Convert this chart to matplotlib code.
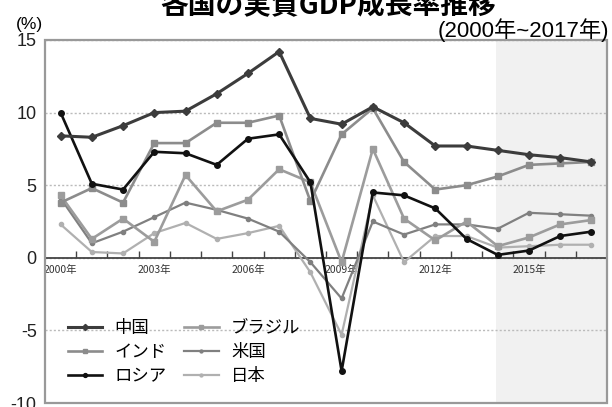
import matplotlib
matplotlib.use("Agg")
import matplotlib.pyplot as plt
from matplotlib.patches import Rectangle
import numpy as np

plt.rcParams['font.family'] = ['Noto Sans CJK JP', 'DejaVu Sans']
plt.rcParams['axes.unicode_minus'] = False
num_font = ['Liberation Sans', 'Noto Sans CJK JP']

# データ (年ごとの実質GDP成長率, %)
years = list(range(2000, 2018))
china = [8.4, 8.3, 9.1, 10.0, 10.1, 11.3, 12.7, 14.2, 9.6, 9.2, 10.4, 9.3, 7.7, 7.7, 7.4, 7.1, 6.9, 6.6]
india = [3.8, 4.8, 3.8, 7.9, 7.9, 9.3, 9.3, 9.8, 3.9, 8.5, 10.3, 6.6, 4.7, 5.0, 5.6, 6.4, 6.5, 6.6]
russia = [10.0, 5.1, 4.7, 7.3, 7.2, 6.4, 8.2, 8.5, 5.2, -7.8, 4.5, 4.3, 3.4, 1.3, 0.2, 0.5, 1.5, 1.8]
brazil = [4.3, 1.3, 2.7, 1.1, 5.7, 3.2, 4.0, 6.1, 5.2, -0.3, 7.5, 2.7, 1.2, 2.5, 0.8, 1.4, 2.3, 2.6]
usa = [4.1, 1.0, 1.8, 2.8, 3.8, 3.3, 2.7, 1.8, -0.3, -2.8, 2.5, 1.6, 2.3, 2.3, 2.0, 3.1, 3.0, 2.9]
japan = [2.3, 0.4, 0.3, 1.7, 2.4, 1.3, 1.7, 2.2, -1.0, -5.3, 4.3, -0.3, 1.5, 1.5, 0.7, 0.8, 0.9, 0.9]

label_years = [2000, 2003, 2006, 2009, 2012, 2015]
yticks = [15, 10, 5, 0, -5, -10]
forecast_start = 2013.95

fig = plt.figure(figsize=(6.12, 4.07), dpi=100)
ax = fig.add_axes([45/612, 1 - 403/407, 562/612, 363/407])

ax.axvspan(forecast_start, 2017.5, color='#f1f1f1', zorder=0, lw=0)

# 各系列
ax.plot(years, japan, color='#b0b0b0', lw=1.6, marker='o', ms=3, label='日本', zorder=3)
ax.plot(years, usa, color='#808080', lw=1.6, marker='o', ms=3, label='米国', zorder=3)
ax.plot(years, brazil, color='#9c9c9c', lw=1.9, marker='s', ms=4, label='ブラジル', zorder=3)
ax.plot(years, india, color='#8c8c8c', lw=1.9, marker='s', ms=4, label='インド', zorder=3)
ax.plot(years, russia, color='#111111', lw=1.9, marker='o', ms=4, label='ロシア', zorder=4)
ax.plot(years, china, color='#3c3c3c', lw=2.2, marker='D', ms=4.5, label='中国', zorder=4)

ax.set_xlim(1999.5, 2017.5)
ax.set_ylim(-10, 15)

# 枠
for s in ['top', 'left', 'right']:
    ax.spines[s].set_visible(False)
ax.spines['bottom'].set_position(('data', 0))
ax.spines['bottom'].set_color('#444444')
ax.spines['bottom'].set_linewidth(1.3)
ax.add_patch(Rectangle((0, 0), 1, 1, transform=ax.transAxes, fill=False,
                       ec='#999999', lw=1.6, zorder=6, clip_on=False))

ax.set_yticks(yticks)
ax.set_yticklabels([str(v) for v in yticks], fontsize=13, color='#222222', family=num_font)
ax.tick_params(axis='y', length=0, pad=6)
ax.yaxis.grid(True, linestyle=(0, (1.5, 1.5)), color='#bbbbbb', lw=1)

ax.set_xticks(label_years)
ax.set_xticklabels([f'{y}年' for y in label_years], fontsize=7.5,
                   family=['Liberation Sans Narrow', 'Noto Sans CJK JP'], color='#333333')
ax.set_xticks(np.arange(2000.5, 2017.5, 1), minor=True)
ax.tick_params(axis='x', which='major', length=0, pad=5)
ax.tick_params(axis='x', which='minor', direction='in', length=5, color='#444444', width=1)

# 凡例
h, l = ax.get_legend_handles_labels()
order = ['中国', 'インド', 'ロシア', 'ブラジル', '米国', '日本']
hd = dict(zip(l, h))
ax.legend([hd[k] for k in order], order, loc='upper left', bbox_to_anchor=(0.025, 0.255),
          ncol=2, frameon=False, fontsize=12.5, handlelength=2.0, handletextpad=0.7,
          columnspacing=1.0, labelspacing=0.35, borderpad=0, markerscale=0.7)

fig.text(29/612, 1 - 25/407, '(%)', fontsize=12.5, ha='center', va='center', family=num_font)
fig.text(328/612, 1 - 14/407, '各国の実質GDP成長率推移', fontsize=20, fontweight='bold',
         ha='center', va='baseline')
fig.text(609/612, 1 - 30/407, '(2000年~2017年)', fontsize=16, ha='right', va='center',
         family=num_font)

fig.savefig('out.png', dpi=100)
